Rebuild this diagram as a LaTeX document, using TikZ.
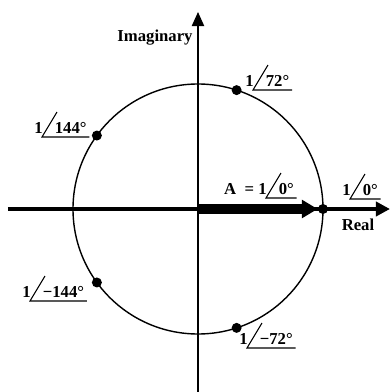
\documentclass[tikz,border=0pt]{standalone}
\usepackage{fontspec}
\setmainfont{Liberation Serif}
\usetikzlibrary{arrows.meta}

% phasor label: name, vertex of the angle sign, magnitude, angle
\newcommand{\anglab}[4]{%
  \coordinate (v#1) at #2;
  \node[lbl, anchor=base east] (m#1) at ([xshift=0.02cm,yshift=0.08cm]v#1) {#3};
  \node[lbl, anchor=base west] (a#1) at ([xshift=0.25cm,yshift=0.08cm]v#1) {#4};
  \draw[sign] ([xshift=0.3cm,yshift=0.5cm]v#1) -- (v#1) -- ([xshift=0.05cm]v#1 -| a#1.east);
}

\begin{document}
\begin{tikzpicture}
  \tikzstyle{lbl}=[font=\fontsize{9.5}{11}\selectfont\bfseries, inner sep=0pt]
  \tikzstyle{sign}=[line width=0.6pt]
  \tikzstyle{dot}=[circle, fill=black, inner sep=0pt, minimum size=0.2cm]
  \useasboundingbox (-3.96,-3.66) rectangle (3.84,4.18);

  % eixos
  \coordinate (O) at (0,0);
  \coordinate (W) at (-3.8,0);
  \coordinate (E) at (3.84,0);
  \coordinate (S) at (0,-3.66);
  \coordinate (N) at (0,3.94);
  \draw[line width=0.8pt] (O) circle (2.5);
  \draw[line width=0.7pt, -{Triangle[length=8pt,width=7pt]}] (S) -- (N);
  \draw[line width=2.3pt, -{Triangle[length=8pt,width=8pt]}] (W) -- (E);
  \node[lbl] (imag) at (-0.86,3.42) {Imaginary};
  \node[lbl] (real) at (3.2,-0.32) {Real};

  % pontos sobre o circulo
  \foreach \a in {0,72,144,-144,-72} {
    \node[dot] (p\a) at (\a:2.5) {};
  }

  % vetor A
  \draw[line width=5.8pt, -{Triangle[length=9pt,width=10pt]}] (O) -- (p0);

  % rotulos
  \anglab{72}{(1.10,2.38)}{1}{72°}
  \anglab{144}{(-3.12,1.44)}{1}{144°}
  \anglab{m144}{(-3.36,-1.84)}{1}{−144°}
  \anglab{m72}{(0.98,-2.78)}{1}{−72°}
  \anglab{A}{(1.36,0.22)}{A\ \ =\ 1}{0°}
  \anglab{0}{(3.04,0.20)}{1}{0°}
\end{tikzpicture}
\end{document}
